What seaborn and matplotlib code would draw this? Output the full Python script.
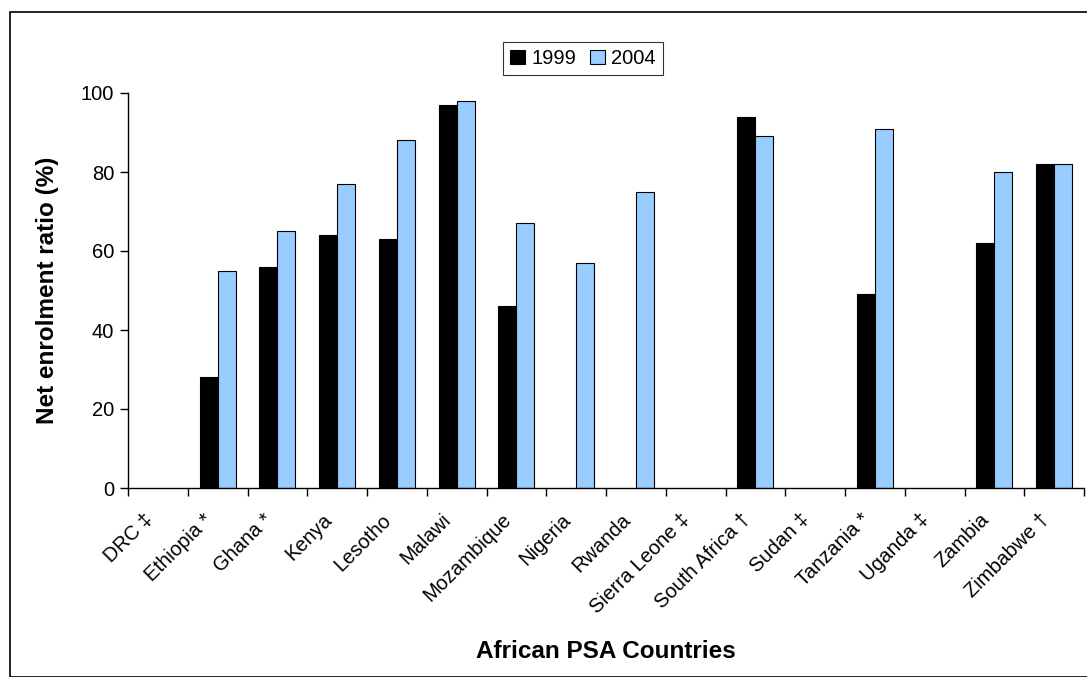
import numpy as np
import pandas as pd
import matplotlib
matplotlib.use("Agg")
import matplotlib.pyplot as plt
import matplotlib.transforms as mtransforms
from matplotlib.patches import Rectangle
import seaborn as sns

countries = ["DRC \u2021", "Ethiopia *", "Ghana *", "Kenya", "Lesotho", "Malawi",
             "Mozambique", "Nigeria", "Rwanda", "Sierra Leone \u2021", "South Africa \u2020",
             "Sudan \u2021", "Tanzania *", "Uganda \u2021", "Zambia", "Zimbabwe \u2020"]
ner_1999 = [np.nan, 28, 56, 64, 63, 97, 46, np.nan, np.nan, np.nan, 94, np.nan, 49, np.nan, 62, 82]
ner_2004 = [np.nan, 55, 65, 77, 88, 98, 67, 57, 75, np.nan, 89, np.nan, 91, np.nan, 80, 82]
years = ["1999", "2004"]
y_ticks = [0, 20, 40, 60, 80, 100]

df = pd.DataFrame({
    "country": countries * 2,
    "ratio": ner_1999 + ner_2004,
    "year": [years[0]] * len(countries) + [years[1]] * len(countries),
})

sns.set_theme(style="white")
plt.rcParams["font.family"] = ["Liberation Sans", "DejaVu Sans"]
plt.rcParams["text.color"] = "black"
plt.rcParams["axes.labelcolor"] = "black"
plt.rcParams["xtick.color"] = "black"
plt.rcParams["ytick.color"] = "black"

fig = plt.figure(figsize=(10.87, 6.77), dpi=100)
fig.patch.set_facecolor("white")
# outer frame of the chart area
fig.patches.append(Rectangle((10 / 1087, 0), 1.2, 1 - 12 / 677, transform=fig.transFigure,
                             fill=False, edgecolor="black", linewidth=1.2, zorder=0))

ax = fig.add_axes([128 / 1087, 1 - 488 / 677, (1084 - 128) / 1087, (488 - 93) / 677])
sns.barplot(data=df, x="country", y="ratio", hue="year", order=countries, hue_order=years,
            palette=["black", "#99CCFF"], saturation=1, width=0.6, gap=0, edgecolor="black",
            linewidth=0.8, ax=ax, legend=True)

ax.set_xlim(-0.5, len(countries) - 0.5)
ax.set_ylim(0, 100)
ax.set_yticks(y_ticks)
ax.set_yticklabels([str(v) for v in y_ticks], fontsize=14.5)
ax.set_xticks(range(len(countries)))
ax.set_xticklabels(countries, rotation=45, ha="right", rotation_mode="anchor", fontsize=14.5)
ax.set_xticks(np.arange(-0.5, len(countries)), minor=True)
ax.tick_params(axis="x", which="major", length=0, pad=16, bottom=False)
ax.tick_params(axis="x", which="minor", length=6, width=1, color="black", direction="out",
               bottom=True)
ax.tick_params(axis="y", which="major", length=6, width=1, color="black", direction="out",
               left=True, pad=4)

# nudge the slanted category labels a little to the left of each group centre
shift = mtransforms.ScaledTranslation(-15 / 100, 0, fig.dpi_scale_trans)
for lbl in ax.get_xticklabels():
    lbl.set_transform(lbl.get_transform() + shift)

for side in ["top", "right"]:
    ax.spines[side].set_visible(False)
for side in ["left", "bottom"]:
    ax.spines[side].set_color("black")
    ax.spines[side].set_linewidth(1)

ax.set_xlabel("African PSA Countries", fontsize=17.5, fontweight="bold")
ax.set_ylabel("Net enrolment ratio (%)", fontsize=17.5, fontweight="bold", labelpad=16)
ax.xaxis.set_label_coords(0.5, -0.385)

handles, labels = ax.get_legend_handles_labels()
ax.get_legend().remove()
leg = fig.legend(handles, labels, loc="upper center", bbox_to_anchor=(583 / 1087, 1 - 42 / 677),
                 ncol=2, fontsize=14.5, frameon=True, fancybox=False, edgecolor="black",
                 handlelength=0.75, handleheight=0.75, handletextpad=0.3, columnspacing=0.7,
                 borderpad=0.35, borderaxespad=0)
leg.get_frame().set_linewidth(0.8)

fig.savefig("out.png", dpi=100)
